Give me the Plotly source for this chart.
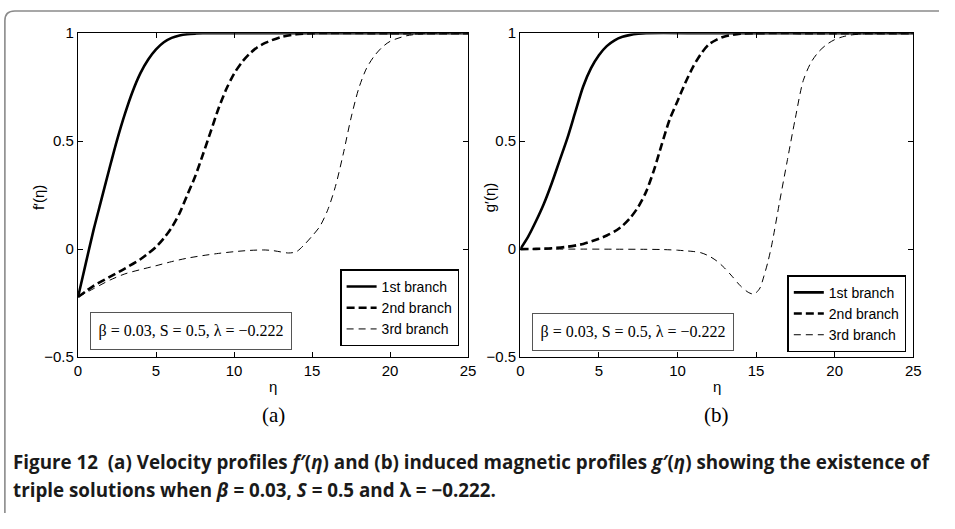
import plotly.graph_objects as go

# ---------------- data ----------------
eta_f1 = [0, 0.5, 1, 1.5, 2, 2.5, 3, 3.5, 4, 4.5, 5, 5.5, 6, 6.5, 7, 7.5, 8, 12, 18, 25]
f1 = [-0.222, -0.065, 0.09, 0.23, 0.37, 0.505, 0.625, 0.73, 0.815, 0.878, 0.925, 0.958,
      0.978, 0.989, 0.995, 0.998, 1.0, 1.0, 1.0, 1.0]

eta_f2 = [0, 1, 2, 3, 4, 4.5, 5, 5.5, 6, 6.5, 7, 7.5, 8, 8.5, 9, 9.5, 10, 10.5, 11, 11.5,
          12, 13, 14, 15, 20, 25]
f2 = [-0.222, -0.17, -0.13, -0.09, -0.047, -0.02, 0.01, 0.05, 0.1, 0.165, 0.25, 0.335,
      0.437, 0.543, 0.65, 0.74, 0.812, 0.865, 0.905, 0.935, 0.955, 0.982, 0.995, 1.0, 1.0, 1.0]

eta_f3 = [0, 1, 2, 3, 4, 5, 6, 7, 8, 9, 10, 11, 12, 12.5, 13, 13.5, 14, 14.5, 15, 15.5,
          16, 16.5, 17, 17.5, 18, 18.5, 19, 19.5, 20, 21, 22, 23, 25]
f3 = [-0.222, -0.183, -0.145, -0.115, -0.095, -0.077, -0.058, -0.042, -0.03, -0.02,
      -0.012, -0.006, -0.004, -0.007, -0.013, -0.018, -0.012, 0.02, 0.06, 0.105, 0.18,
      0.29, 0.44, 0.607, 0.745, 0.838, 0.895, 0.935, 0.962, 0.987, 0.997, 1.0, 1.0]

eta_g1 = [0, 0.5, 1, 1.5, 2, 2.5, 3, 3.5, 4, 4.5, 5, 5.5, 6, 6.5, 7, 7.5, 8, 12, 18, 25]
g1 = [0, 0.058, 0.13, 0.21, 0.305, 0.41, 0.515, 0.635, 0.753, 0.838, 0.898, 0.94, 0.967,
      0.983, 0.992, 0.997, 1.0, 1.0, 1.0, 1.0]

eta_g2 = [0, 1, 2, 3, 4, 5, 5.5, 6, 6.5, 7, 7.5, 8, 8.5, 9, 9.5, 10, 10.5, 11, 11.5, 12,
          12.5, 13, 14, 15, 20, 25]
g2 = [0, 0.001, 0.004, 0.011, 0.024, 0.048, 0.063, 0.082, 0.108, 0.145, 0.195, 0.265,
      0.365, 0.485, 0.6, 0.685, 0.77, 0.845, 0.905, 0.948, 0.97, 0.985, 0.997, 1.0, 1.0, 1.0]

eta_g3 = [0, 2, 4, 6, 8, 9, 10, 10.5, 11, 11.5, 12, 12.5, 13, 13.5, 14, 14.5, 14.8, 15,
          15.25, 15.5, 15.75, 16, 16.5, 17, 17.5, 18, 18.5, 19, 19.5, 20, 20.5, 21, 22, 23, 25]
g3 = [0, 0, 0, -0.0005, -0.001, -0.002, -0.005, -0.008, -0.011, -0.017, -0.032, -0.055,
      -0.088, -0.128, -0.17, -0.2, -0.208, -0.202, -0.18, -0.125, -0.06, 0.02, 0.22, 0.415,
      0.607, 0.78, 0.865, 0.915, 0.948, 0.97, 0.983, 0.991, 0.998, 1.0, 1.0]

branch_names = ["1st branch", "2nd branch", "3rd branch"]
x_ticks = [0, 5, 10, 15, 20, 25]
y_ticks = [-0.5, 0, 0.5, 1]
y_tick_text = ["\u22120.5", "0", "0.5", "1"]
param_text = "\u03b2 = 0.03, S = 0.5, \u03bb = \u22120.222"
caption_1 = ("<b>Figure 12  (a) Velocity profiles <i>f\u2032</i>(<i>\u03b7</i>) and (b) induced "
             "magnetic profiles <i>g\u2032</i>(<i>\u03b7</i>) showing the existence of</b>")
caption_2 = ("<b>triple solutions when <i>\u03b2</i> = 0.03, <i>S</i> = 0.5 and "
             "\u03bb = \u22120.222.</b>")

# ---------------- figure ----------------
# The page body keeps the browser's default 8px margin and the whole page is
# photographed, so the figure is made 16px smaller than the window and every
# reference pixel position is shifted by 8.
PAGE_MARGIN = 8
W, H = 955 - 2 * PAGE_MARGIN, 529 - 2 * PAGE_MARGIN

styles = [dict(color="black", width=2.6, dash="solid"),
          dict(color="black", width=2.6, dash="8px,4px"),
          dict(color="black", width=1.0, dash="7px,5px")]

fig = go.Figure()
for xs, ys, st, nm in zip([eta_f1, eta_f2, eta_f3], [f1, f2, f3], styles, branch_names):
    fig.add_trace(go.Scatter(x=xs, y=ys, mode="lines", name=nm,
                             line=dict(shape="spline", smoothing=0.8, **st),
                             xaxis="x", yaxis="y", legend="legend"))
for xs, ys, st, nm in zip([eta_g1, eta_g2, eta_g3], [g1, g2, g3], styles, branch_names):
    fig.add_trace(go.Scatter(x=xs, y=ys, mode="lines", name=nm,
                             line=dict(shape="spline", smoothing=0.8, **st),
                             xaxis="x2", yaxis="y2", legend="legend2"))


def px_x(p):
    return (p - PAGE_MARGIN) / W


def px_y(p):
    return 1 - (p - PAGE_MARGIN) / H


sans = "Liberation Sans, Arial, sans-serif"
serif = "Liberation Serif, Times New Roman, serif"
tickfont = dict(family=sans, size=15, color="black")
ax_common = dict(showline=True, linecolor="black", linewidth=1.3, mirror="ticks",
                 ticks="inside", ticklen=5, tickwidth=1, tickcolor="black",
                 showgrid=False, zeroline=False, tickfont=tickfont)

ydom = [px_y(368), px_y(33)]
legend_common = dict(xanchor="right", yanchor="bottom", bgcolor="white",
                     bordercolor="black", borderwidth=1.5,
                     font=dict(family=sans, size=14, color="black"),
                     tracegroupgap=0, itemwidth=30)
fig.update_layout(
    width=W, height=H,
    margin=dict(l=0, r=0, t=0, b=0),
    paper_bgcolor="white", plot_bgcolor="white",
    xaxis=dict(domain=[px_x(83), px_x(478)], range=[0, 25], tickvals=x_ticks, anchor="y", **ax_common),
    yaxis=dict(domain=ydom, range=[-0.5, 1], tickvals=y_ticks, ticktext=y_tick_text, anchor="x", **ax_common),
    xaxis2=dict(domain=[px_x(531), px_x(929)], range=[0, 25], tickvals=x_ticks, anchor="y2", **ax_common),
    yaxis2=dict(domain=ydom, range=[-0.5, 1], tickvals=y_ticks, ticktext=y_tick_text, anchor="x2", **ax_common),
    legend=dict(x=px_x(469), y=px_y(357), **legend_common),
    legend2=dict(x=px_x(922), y=px_y(363), **legend_common),
    showlegend=True,
)

# outer rounded frame (its left edge sits as close to the reference as the page allows)
x0 = 0.9 / W
yt = px_y(10)
r_x, r_y = 10 / W, 10 / H
fig.add_shape(type="path", xref="paper", yref="paper",
              path=f"M {x0},-0.02 L {x0},{yt - r_y} Q {x0},{yt} {x0 + r_x},{yt} L 1.02,{yt}",
              line=dict(color="#8a8a8a", width=1.6))

annots = []
for cx, cy, txt in [(43, 203, "f\u2032(\u03b7)"), (500, 203, "g\u2032(\u03b7)")]:
    annots.append(dict(x=px_x(cx), y=px_y(cy), xref="paper", yref="paper", text=txt, showarrow=False,
                       xanchor="center", yanchor="middle", textangle=-90,
                       font=dict(family=sans, size=15, color="black")))
for cx in [280.5, 730]:
    annots.append(dict(x=px_x(cx), y=px_y(398), xref="paper", yref="paper", text="\u03b7", showarrow=False,
                       xanchor="center", yanchor="middle",
                       font=dict(family=sans, size=15, color="black")))
for cx, lab in [(280.5, "(a)"), (730, "(b)")]:
    annots.append(dict(x=px_x(cx), y=px_y(428), xref="paper", yref="paper", text=lab, showarrow=False,
                       xanchor="center", yanchor="middle",
                       font=dict(family=serif, size=21, color="black")))
for cx, cy in [(197, 341), (645.5, 342)]:
    annots.append(dict(x=px_x(cx), y=px_y(cy), xref="paper", yref="paper", text=param_text, showarrow=False,
                       xanchor="center", yanchor="middle",
                       width=196, height=32, borderpad=2, bordercolor="#555555", borderwidth=1,
                       bgcolor="white", font=dict(family=serif, size=16, color="black")))
for cy, txt in [(477, caption_1), (506, caption_2)]:
    annots.append(dict(x=px_x(15), y=px_y(cy), xref="paper", yref="paper", text=txt, showarrow=False,
                       xanchor="left", yanchor="middle", align="left",
                       font=dict(family="Open Sans, Lato, sans-serif", size=18.8, color="#1a1a1a")))
fig.update_layout(annotations=annots)

fig.write_html("out.html")
